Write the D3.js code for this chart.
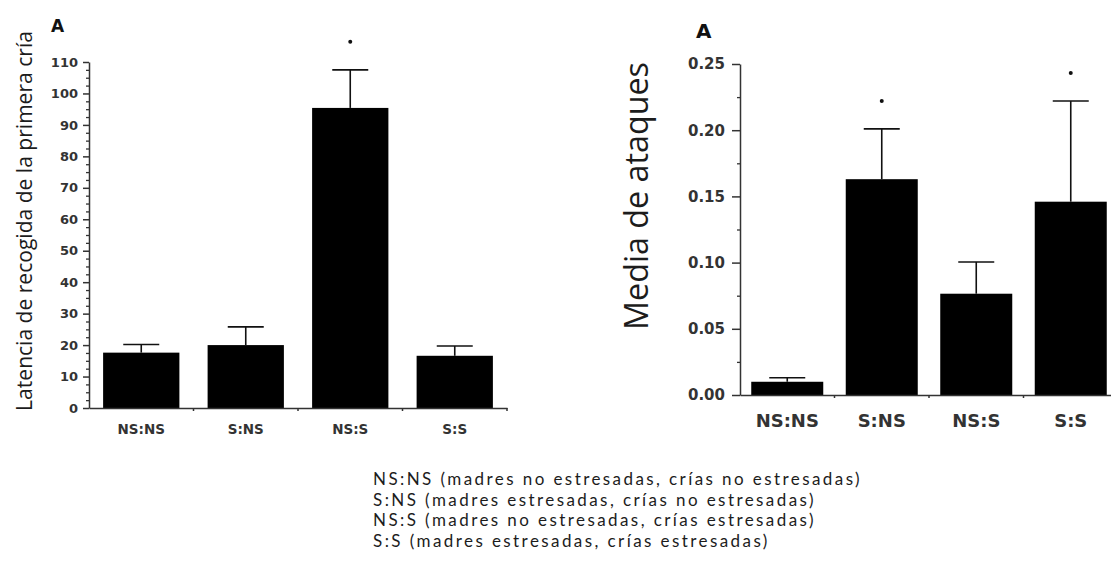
<!DOCTYPE html>
<html>
<head>
<meta charset="utf-8">
<script src="https://cdn.jsdelivr.net/npm/d3@7"></script>
<style>
  html, body { margin: 0; padding: 0; background: #fff; }
  svg { display: block; }
</style>
</head>
<body>
<svg id="chart" width="1111" height="566"></svg>
<script>
// Groups shared by both panels
const categories = ["NS:NS", "S:NS", "NS:S", "S:S"];

// Panel 1: latency to retrieve the first pup (mean and SEM)
const latencyMean = [17.6, 20.0, 95.4, 16.6];
const latencySem = [2.6, 5.8, 12.1, 3.1];
const latencySig = [false, false, true, false];
const latencyTicks = [0, 10, 20, 30, 40, 50, 60, 70, 80, 90, 100, 110];

// Panel 2: mean number of attacks (mean and SEM)
const attackMean = [0.010, 0.163, 0.0765, 0.146];
const attackSem = [0.003, 0.038, 0.024, 0.076];
const attackSig = [false, true, false, true];
const attackTicks = [0, 0.05, 0.10, 0.15, 0.20, 0.25];

const panelLetter = "A";
const latencyTitle = "Latencia de recogida de la primera cría";
const attackTitle = "Media de ataques";

const legendLines = [
  "NS:NS (madres no estresadas, crías no estresadas)",
  "S:NS (madres estresadas, crías no estresadas)",
  "NS:S (madres no estresadas, crías estresadas)",
  "S:S (madres estresadas, crías estresadas)"
];

const svg = d3.select("#chart");
const ink = "#1c1c1c";
const axisInk = "#333";

// Scale a text element's font size so its rendered width equals `target`.
function fitWidth(sel, target) {
  const w = sel.node().getComputedTextLength();
  const fs = parseFloat(sel.attr("font-size"));
  sel.attr("font-size", fs * target / w);
  return fs * target / w;
}

function drawPanel(cfg) {
  const g = svg.append("g");
  const x = d3.scaleBand()
    .domain(categories)
    .range(cfg.xRange)
    .paddingInner(cfg.pad)
    .paddingOuter(cfg.pad / 2);
  const y = d3.scaleLinear().domain(cfg.yDomain).range(cfg.yRange);
  const x0 = cfg.xRange[0];

  // bars
  g.selectAll("rect.bar")
    .data(categories)
    .join("rect")
    .attr("class", "bar")
    .attr("x", d => x(d))
    .attr("width", x.bandwidth())
    .attr("y", (d, i) => y(cfg.mean[i]))
    .attr("height", (d, i) => y(0) - y(cfg.mean[i]))
    .attr("fill", "#000");

  // error bars (upper only)
  const eb = g.selectAll("g.err")
    .data(categories)
    .join("g")
    .attr("class", "err")
    .attr("stroke", "#111")
    .attr("stroke-width", 1.6);
  eb.append("line")
    .attr("x1", d => x(d) + x.bandwidth() / 2)
    .attr("x2", d => x(d) + x.bandwidth() / 2)
    .attr("y1", (d, i) => y(cfg.mean[i]))
    .attr("y2", (d, i) => y(cfg.mean[i] + cfg.sem[i]));
  eb.append("line")
    .attr("x1", d => x(d) + x.bandwidth() / 2 - 18)
    .attr("x2", d => x(d) + x.bandwidth() / 2 + 18)
    .attr("y1", (d, i) => y(cfg.mean[i] + cfg.sem[i]))
    .attr("y2", (d, i) => y(cfg.mean[i] + cfg.sem[i]));

  // significance markers
  g.selectAll("circle.sig")
    .data(categories.filter((d, i) => cfg.sig[i]))
    .join("circle")
    .attr("class", "sig")
    .attr("cx", d => x(d) + x.bandwidth() / 2)
    .attr("cy", d => {
      const i = categories.indexOf(d);
      return y(cfg.mean[i] + cfg.sem[i]) - 28;
    })
    .attr("r", 2)
    .attr("fill", "#111");

  // y axis: major ticks with labels
  const yAxis = g.append("g")
    .attr("transform", `translate(${x0},0)`)
    .call(d3.axisLeft(y)
      .tickValues(cfg.ticks)
      .tickFormat(cfg.fmt)
      .tickSize(cfg.majorTick)
      .tickSizeOuter(0)
      .tickPadding(cfg.tickPad));
  yAxis.select(".domain").attr("stroke", axisInk).attr("stroke-width", 1.5);
  yAxis.selectAll(".tick line").attr("stroke", axisInk).attr("stroke-width", 1.5);
  yAxis.selectAll(".tick text")
    .attr("font-family", "DejaVu Sans")
    .attr("font-weight", "bold")
    .attr("font-size", cfg.tickFont)
    .attr("fill", axisInk);

  // y axis: minor ticks
  const minor = g.append("g")
    .attr("transform", `translate(${x0},0)`)
    .call(d3.axisLeft(y)
      .tickValues(cfg.minorTicks)
      .tickFormat("")
      .tickSize(3)
      .tickSizeOuter(0));
  minor.select(".domain").remove();
  minor.selectAll(".tick line").attr("stroke", axisInk).attr("stroke-width", 1.3);

  // x axis with category labels
  const xAxis = g.append("g")
    .attr("transform", `translate(0,${y(0)})`)
    .call(d3.axisBottom(x).tickSize(0).tickSizeOuter(0).tickPadding(cfg.catPad));
  xAxis.select(".domain").attr("stroke", axisInk).attr("stroke-width", 1.5);
  xAxis.selectAll(".tick text")
    .attr("font-family", "DejaVu Sans")
    .attr("font-weight", "bold")
    .attr("font-size", cfg.catFont)
    .attr("fill", axisInk);

  // small ticks at the group boundaries
  const bounds = d3.range(1, categories.length + 1).map(k => x0 + k * x.step());
  g.selectAll("line.bound")
    .data(bounds)
    .join("line")
    .attr("class", "bound")
    .attr("x1", d => d).attr("x2", d => d)
    .attr("y1", y(0)).attr("y2", y(0) + 3)
    .attr("stroke", axisInk).attr("stroke-width", 1.5);

  // panel letter
  g.append("text")
    .attr("x", cfg.letterPos[0])
    .attr("y", cfg.letterPos[1])
    .attr("font-family", "DejaVu Sans")
    .attr("font-weight", "bold")
    .attr("font-size", cfg.letterFont)
    .attr("fill", "#111")
    .text(panelLetter);

  // y title
  const t = g.append("text")
    .attr("transform", `translate(${cfg.titlePos[0]},${cfg.titlePos[1]}) rotate(-90)`)
    .attr("text-anchor", "middle")
    .attr("font-family", cfg.titleFont)
    .attr("font-size", 20)
    .attr("fill", ink)
    .text(cfg.title);
  fitWidth(t, cfg.titleLen);
}

drawPanel({
  xRange: [89, 507], pad: 0.27,
  yDomain: [0, 110], yRange: [408, 62],
  mean: latencyMean, sem: latencySem, sig: latencySig,
  ticks: latencyTicks, fmt: d3.format("d"),
  minorTicks: d3.range(0, 110, 2.5).filter(v => v % 10 !== 0),
  majorTick: 6, tickPad: 5, tickFont: 13,
  catPad: 16, catFont: 13.5,
  letterPos: [51, 32], letterFont: 17,
  title: latencyTitle, titleFont: "Open Sans", titlePos: [32, 221], titleLen: 380
});

drawPanel({
  xRange: [740, 1118], pad: 0.238,
  yDomain: [0, 0.25], yRange: [395, 64],
  mean: attackMean, sem: attackSem, sig: attackSig,
  ticks: attackTicks, fmt: d3.format(".2f"),
  minorTicks: [0.025, 0.075, 0.125, 0.175, 0.225],
  majorTick: 8, tickPad: 7, tickFont: 15,
  catPad: 19, catFont: 18,
  letterPos: [696, 38], letterFont: 20,
  title: attackTitle, titleFont: "Open Sans", titlePos: [648, 196], titleLen: 268
});

// legend of group abbreviations: tight 20.5px line pitch, widened by tracking
const legend = svg.append("g").attr("font-family", "Lato").attr("fill", ink);
const rows = legend.selectAll("text")
  .data(legendLines)
  .join("text")
  .attr("x", 373)
  .attr("y", (d, i) => 485 + i * 20.5)
  .attr("font-size", 17)
  .text(d => d);
const first = rows.nodes()[0];
const natural = first.getComputedTextLength();
const tracking = (489 - natural) / legendLines[0].length;
rows.attr("letter-spacing", tracking);
</script>
</body>
</html>
